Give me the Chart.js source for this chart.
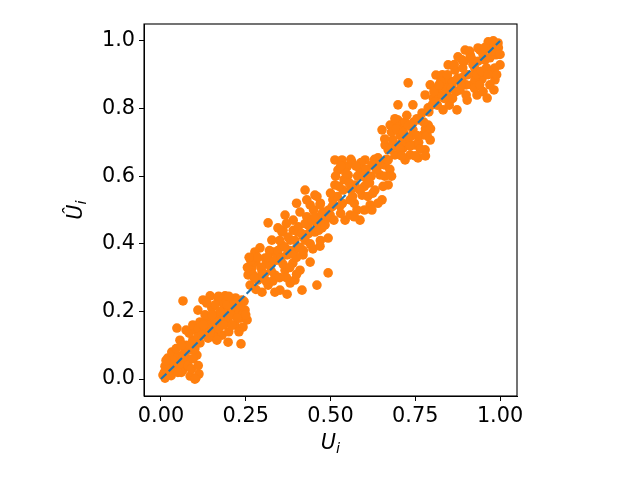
<!DOCTYPE html>
<html>
<head>
<meta charset="utf-8">
<script src="https://cdn.jsdelivr.net/npm/chart.js@4"></script>
<style>
  html, body { margin: 0; padding: 0; background: #fff; }
  canvas { display: block; }
</style>
</head>
<body>
<canvas id="chart" width="640" height="480"></canvas>
<script>
// [U_i, U_hat_i] pairs
const points = [
  [0.006,0.012],[0.012,0.038],[0.02,0.062],[0.027,0.021],[0.041,0.041],[0.032,0.080],
  [0.05,0.068],[0.047,0.151],[0.065,0.231],[0.065,0.027],[0.074,0.05],[0.086,0.009],
  [0.103,0.003],[0.112,0.015],[0.074,0.1],[0.091,0.086],[0.056,0.115],[0.012,0.003],
  [0.027,0.05],[0.094,0.115],[0.106,0.071],[0.115,0.107],[0.083,0.136],[0.103,0.145],
  [0.02,0.03],[0.035,0.055],[0.06,0.02],[0.08,0.06],[0.045,0.09],[0.1,0.09],[0.07,0.08],
  [0.01,0.02],[0.03,0.01],[0.04,0.03],[0.055,0.045],[0.065,0.065],[0.08,0.04],[0.09,0.03],
  [0.095,0.06],[0.11,0.04],[0.1,0.0],[0.085,0.1],[0.06,0.1],[0.05,0.02],[0.015,0.055],

  [0.124,0.234],[0.145,0.246],[0.168,0.240],[0.189,0.246],[0.204,0.234],[0.224,0.219],
  [0.239,0.234],[0.248,0.204],[0.233,0.180],[0.212,0.195],[0.189,0.204],[0.168,0.189],
  [0.15,0.210],[0.136,0.180],[0.153,0.160],[0.174,0.169],[0.198,0.175],[0.218,0.160],
  [0.242,0.154],[0.254,0.175],[0.13,0.145],[0.109,0.127],[0.139,0.121],[0.159,0.136],
  [0.18,0.130],[0.198,0.109],[0.074,0.145],[0.094,0.160],[0.115,0.169],[0.183,0.225],
  [0.109,0.204],[0.236,0.104],
  [0.16,0.22],[0.19,0.19],[0.21,0.21],[0.23,0.20],[0.17,0.15],[0.14,0.16],[0.2,0.14],
  [0.22,0.24],[0.24,0.19],[0.13,0.19],[0.11,0.15],[0.155,0.125],
  [0.12,0.13],[0.125,0.16],[0.145,0.14],[0.16,0.17],[0.175,0.2],[0.185,0.16],[0.195,0.22],
  [0.205,0.19],[0.215,0.23],[0.225,0.18],[0.235,0.22],[0.245,0.23],[0.25,0.19],[0.2,0.245],
  [0.17,0.245],[0.135,0.225],[0.15,0.19],[0.21,0.16],[0.23,0.14],[0.165,0.115],

  [0.263,0.278],[0.257,0.308],[0.268,0.328],[0.28,0.346],[0.286,0.293],[0.298,0.317],
  [0.307,0.358],[0.316,0.278],[0.322,0.337],[0.330,0.376],[0.336,0.308],[0.345,0.352],
  [0.351,0.263],[0.357,0.396],[0.366,0.322],[0.372,0.367],[0.381,0.411],[0.381,0.284],
  [0.389,0.343],[0.398,0.385],[0.404,0.435],[0.41,0.322],[0.419,0.367],[0.425,0.411],
  [0.434,0.456],[0.44,0.346],[0.448,0.385],[0.454,0.435],[0.463,0.470],[0.469,0.393],
  [0.475,0.447],[0.484,0.494],[0.493,0.417],[0.316,0.462],[0.327,0.411],[0.292,0.388],
  [0.277,0.376],[0.395,0.293],[0.416,0.263],[0.46,0.278],[0.493,0.314],[0.372,0.251],
  [0.345,0.447],[0.366,0.485],[0.298,0.257],[0.336,0.257],[0.41,0.494],[0.357,0.435],
  [0.44,0.515],[0.454,0.544],[0.425,0.559],
  [0.29,0.30],[0.31,0.34],[0.34,0.37],[0.36,0.34],[0.38,0.38],[0.4,0.36],[0.42,0.42],
  [0.44,0.4],[0.46,0.46],[0.48,0.47],[0.35,0.41],[0.33,0.29],[0.39,0.44],[0.43,0.48],
  [0.45,0.5],[0.47,0.52],[0.37,0.3],[0.27,0.31],[0.41,0.39],[0.32,0.38],
  [0.255,0.33],[0.265,0.35],[0.275,0.3],[0.285,0.36],[0.295,0.33],[0.305,0.31],[0.315,0.36],
  [0.325,0.32],[0.335,0.35],[0.345,0.38],[0.355,0.36],[0.365,0.39],[0.375,0.42],[0.385,0.37],
  [0.395,0.41],[0.405,0.45],[0.415,0.43],[0.425,0.46],[0.435,0.43],[0.445,0.47],[0.455,0.48],
  [0.465,0.44],[0.475,0.49],[0.485,0.47],[0.495,0.5],[0.36,0.44],[0.35,0.3],[0.31,0.29],
  [0.38,0.33],[0.42,0.38],[0.47,0.41],[0.39,0.47],[0.4,0.52],[0.43,0.53],[0.46,0.54],
  [0.37,0.46],[0.26,0.36],[0.28,0.265],[0.4,0.31],

  [0.499,0.485],[0.507,0.53],[0.513,0.574],[0.522,0.618],[0.528,0.512],[0.537,0.559],
  [0.543,0.47],[0.552,0.603],[0.558,0.53],[0.563,0.642],[0.572,0.574],[0.578,0.5],
  [0.587,0.618],[0.593,0.544],[0.602,0.648],[0.608,0.589],[0.617,0.515],[0.622,0.633],
  [0.631,0.559],[0.64,0.654],[0.646,0.604],[0.652,0.53],[0.661,0.633],[0.67,0.678],
  [0.513,0.648],[0.534,0.648],[0.587,0.47],[0.558,0.485],[0.622,0.5],[0.67,0.574],
  [0.484,0.456],[0.469,0.515],
  [0.52,0.54],[0.54,0.59],[0.56,0.56],[0.58,0.6],[0.6,0.57],[0.62,0.6],[0.64,0.63],
  [0.66,0.6],[0.5,0.55],[0.53,0.49],[0.57,0.52],[0.61,0.54],[0.63,0.65],[0.55,0.63],[0.59,0.64],
  [0.505,0.51],[0.515,0.6],[0.525,0.57],[0.535,0.52],[0.545,0.61],[0.555,0.58],[0.565,0.54],
  [0.575,0.63],[0.585,0.56],[0.595,0.6],[0.605,0.62],[0.615,0.58],[0.625,0.55],[0.635,0.62],
  [0.645,0.64],[0.655,0.57],[0.665,0.65],[0.675,0.62],[0.53,0.63],[0.56,0.65],[0.6,0.5],
  [0.57,0.48],[0.64,0.52],[0.68,0.6],[0.51,0.47],

  [0.652,0.737],[0.661,0.692],[0.676,0.751],[0.684,0.707],[0.69,0.663],[0.699,0.766],
  [0.705,0.722],[0.714,0.683],[0.72,0.751],[0.729,0.707],[0.735,0.663],[0.743,0.737],
  [0.749,0.692],[0.758,0.654],[0.764,0.766],[0.773,0.722],[0.779,0.678],[0.788,0.751],
  [0.729,0.876],[0.743,0.811],[0.699,0.811],[0.794,0.707],[0.67,0.648],[0.72,0.648],
  [0.68,0.73],[0.71,0.7],[0.74,0.72],[0.76,0.7],[0.7,0.75],[0.72,0.76],[0.78,0.74],[0.66,0.71],
  [0.685,0.69],[0.695,0.74],[0.705,0.68],[0.715,0.73],[0.725,0.78],[0.735,0.69],[0.745,0.76],
  [0.755,0.72],[0.765,0.68],[0.775,0.76],[0.785,0.72],[0.755,0.77],[0.73,0.75],[0.69,0.77],
  [0.675,0.68],[0.795,0.74],[0.71,0.66],[0.75,0.66],[0.78,0.66],

  [0.779,0.84],[0.794,0.87],[0.8,0.811],[0.811,0.899],[0.823,0.84],[0.832,0.796],
  [0.838,0.885],[0.847,0.929],[0.853,0.825],[0.858,0.87],[0.867,0.914],[0.873,0.796],
  [0.882,0.855],[0.888,0.944],[0.897,0.899],[0.903,0.825],[0.912,0.959],[0.917,0.87],
  [0.926,0.917],[0.932,0.84],[0.941,0.973],[0.947,0.888],[0.956,0.944],[0.962,0.831],
  [0.971,0.988],[0.976,0.908],[0.982,0.855],[0.988,0.959],[0.994,0.994],[1.0,0.929],
  [0.965,0.997],[0.935,0.979],[0.897,0.973],[0.876,0.953],[0.817,0.861],[0.844,0.84],
  [0.888,0.891],[0.926,0.885],[0.985,0.885],[0.77,0.787],[0.788,0.802],[0.803,0.831],
  [0.81,0.82],[0.84,0.86],[0.86,0.88],[0.87,0.85],[0.89,0.92],[0.9,0.87],[0.92,0.93],
  [0.93,0.9],[0.95,0.96],[0.96,0.92],[0.97,0.95],[0.99,0.97],[0.83,0.9],[0.91,0.97],[0.85,0.81],
  [0.79,0.79],[0.805,0.85],[0.815,0.81],[0.825,0.88],[0.835,0.83],[0.845,0.9],[0.855,0.86],
  [0.865,0.93],[0.875,0.89],[0.885,0.87],[0.895,0.94],[0.905,0.9],[0.915,0.95],[0.925,0.86],
  [0.935,0.94],[0.945,0.91],[0.955,0.98],[0.965,0.9],[0.975,0.97],[0.985,0.92],[0.995,0.98],
  [0.98,1.0],[0.9,0.84],[0.94,0.87],[0.86,0.83],[0.82,0.87],[0.95,0.85],[0.97,0.87],
  [1.0,0.96],[0.99,0.9]
];

// identity reference line
const identity = [[0, 0], [1, 1]];

const xTicks = [0, 0.25, 0.5, 0.75, 1.0];
const yTicks = [0, 0.2, 0.4, 0.6, 0.8, 1.0];
const xTitle = ['U', 'i'];
const yTitle = ['Û', 'i'];

const font = { family: 'DejaVu Sans', size: 20.8 };

// box round the plot, plus axis titles with a real subscript
const frame = {
  id: 'frame',
  afterDatasetsDraw(chart) {
    const { ctx, chartArea: a } = chart;
    ctx.save();
    ctx.strokeStyle = '#000';
    ctx.lineWidth = 1.1;
    ctx.strokeRect(a.left, a.top, a.right - a.left, a.bottom - a.top);
    ctx.restore();
  },
  afterDraw(chart) {
    const { ctx, chartArea: a } = chart;
    const sub = (parts, x, y, rot) => {
      ctx.save();
      ctx.translate(x, y);
      ctx.rotate(rot);
      ctx.fillStyle = '#000';
      ctx.textBaseline = 'alphabetic';
      ctx.textAlign = 'left';
      ctx.font = 'italic 20.8px "DejaVu Sans"';
      const w1 = ctx.measureText(parts[0]).width;
      ctx.font = 'italic 14.6px "DejaVu Sans"';
      const w2 = ctx.measureText(parts[1]).width;
      const x0 = -(w1 + w2) / 2;
      ctx.font = 'italic 20.8px "DejaVu Sans"';
      ctx.fillText(parts[0], x0, 0);
      ctx.font = 'italic 14.6px "DejaVu Sans"';
      ctx.fillText(parts[1], x0 + w1, 4);
      ctx.restore();
    };
    sub(xTitle, (a.left + a.right) / 2, 449, 0);
    sub(yTitle, 82, (a.top + a.bottom) / 2, -Math.PI / 2);
  }
};

new Chart(document.getElementById('chart'), {
  data: {
    datasets: [
      {
        type: 'line',
        data: identity.map(p => ({ x: p[0], y: p[1] })),
        borderColor: '#1f77b4',
        borderWidth: 2.1,
        borderDash: [7.7, 3.3],
        pointRadius: 0,
        fill: false,
        order: 0
      },
      {
        type: 'scatter',
        data: points.map(p => ({ x: p[0], y: p[1] })),
        backgroundColor: '#ff7f0e',
        borderWidth: 0,
        pointRadius: 4.8,
        order: 1
      }
    ]
  },
  options: {
    responsive: false,
    animation: false,
    layout: { padding: { left: 52, right: 123, top: 24, bottom: 0 } },
    plugins: { legend: { display: false }, tooltip: { enabled: false } },
    scales: {
      x: {
        type: 'linear',
        min: -0.05,
        max: 1.05,
        afterBuildTicks: s => { s.ticks = xTicks.map(v => ({ value: v })); },
        afterFit: s => { s.height = 84; },
        grid: { drawOnChartArea: false, drawTicks: true, tickLength: 5, color: '#000', tickWidth: 1 },
        border: { color: '#000', width: 1 },
        ticks: { color: '#000', font, padding: 3, maxRotation: 0, callback: v => v.toFixed(2) },
        title: { display: false }
      },
      y: {
        type: 'linear',
        min: -0.05,
        max: 1.05,
        afterBuildTicks: s => { s.ticks = yTicks.map(v => ({ value: v })); },
        afterFit: s => { s.width = 92; },
        grid: { drawOnChartArea: false, drawTicks: true, tickLength: 5, color: '#000', tickWidth: 1 },
        border: { color: '#000', width: 1 },
        ticks: { color: '#000', font, padding: 4, callback: v => v.toFixed(1) },
        title: { display: false }
      }
    }
  },
  plugins: [frame]
});
</script>
</body>
</html>
